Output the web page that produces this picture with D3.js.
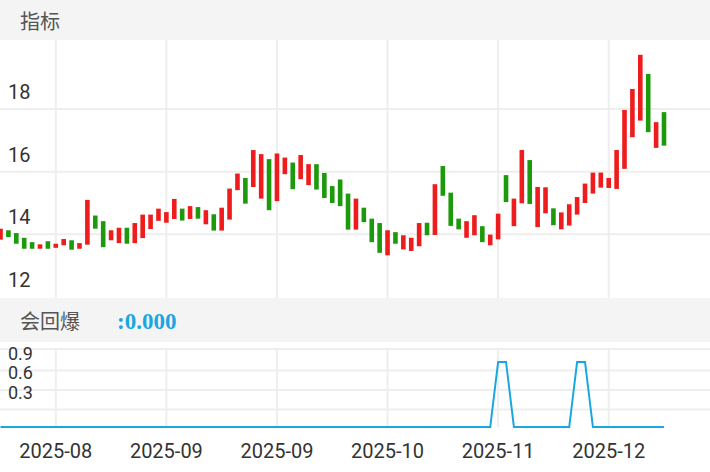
<!DOCTYPE html>
<html><head><meta charset="utf-8">
<script src="https://cdn.jsdelivr.net/npm/d3@7"></script>
<style>body{margin:0;background:#fff}svg{display:block;font-family:Roboto,"Noto Sans CJK SC",sans-serif}</style>
</head><body>
<svg id="c" width="710" height="472"></svg>
<script>
// candle bodies, open / close
const opens = [13.83,14.13,14.04,13.89,13.75,13.54,13.78,13.57,13.65,13.81,13.54,13.67,14.60,14.42,13.81,13.72,14.21,13.72,13.88,14.17,
  14.43,14.37,14.49,14.82,14.49,14.87,14.32,14.64,14.12,14.47,15.41,15.80,15.51,15.14,16.40,15.06,15.92,16.29,15.76,15.57,
  16.24,15.96,15.54,15.75,15.30,14.15,14.85,14.50,14.36,13.33,14.07,13.52,13.47,13.62,14.37,13.98,16.18,15.33,14.50,13.89,
  13.97,14.26,13.65,13.84,15.89,14.26,14.99,16.37,14.23,14.67,14.83,14.16,14.28,14.63,15.00,15.30,15.49,15.48,15.45,16.09,
  17.10,17.63,19.12,16.76,17.90];
const closes = [14.18,13.91,13.70,13.54,13.54,13.68,13.54,13.70,13.85,13.51,13.72,15.10,14.18,13.59,14.13,14.21,13.70,14.36,14.63,14.63,
  14.82,14.71,15.13,14.44,14.90,14.50,14.77,14.12,14.85,15.46,15.94,14.98,16.69,16.56,14.77,16.58,16.45,15.44,16.53,16.24,
  15.43,15.16,15.00,14.90,14.15,15.14,14.39,13.75,13.41,14.13,13.70,13.97,13.89,14.36,13.97,15.60,15.23,14.27,14.16,14.42,
  14.61,13.75,13.99,14.66,15.03,15.14,16.69,14.97,15.51,15.50,14.29,14.70,14.96,15.19,15.62,15.97,15.97,15.80,16.69,17.97,
  18.64,19.73,17.26,17.58,16.83];
// indicator 会回爆 (0 / 1)
const signal = opens.map((_, i) => [63, 64, 73, 74].includes(i) ? 1 : 0);
const priceTicks = [12, 14, 16, 18];
const sigTicks = [0.3, 0.6, 0.9];
const dateLabels = [[7,'2025-08'],[21,'2025-09'],[35,'2025-09'],[49,'2025-10'],[63,'2025-11'],[77,'2025-12']];

const svg = d3.select('#c');
const W = 710;
const x = d3.scaleLinear().domain([0, 84]).range([0.5, 664]);
const y = d3.scaleLinear().domain([12, 18]).range([297, 109]);
const y2 = d3.scaleLinear().domain([0, 1]).range([427, 362]);
const grid = '#eeeeee';

// header bands
svg.append('rect').attr('x',0).attr('y',0).attr('width',W).attr('height',40).attr('fill','#f4f4f4');
svg.append('text').attr('x',20).attr('y',29).attr('font-size',20).attr('fill','#555').text('指标');
svg.append('rect').attr('x',0).attr('y',298).attr('width',W).attr('height',44).attr('fill','#f4f4f4');
svg.append('text').attr('x',20).attr('y',329).attr('font-size',20).attr('fill','#555').text('会回爆');
svg.append('text').attr('x',117).attr('y',329).attr('font-size',23).attr('font-weight','bold')
  .attr('font-family','"Liberation Serif","DejaVu Serif",serif').attr('fill','#1aa7e0').text(':0.000');

// grids
svg.selectAll('.vg').data(dateLabels).join('line')
  .attr('x1', d => x(d[0])).attr('x2', d => x(d[0])).attr('y1', 40).attr('y2', 298)
  .attr('stroke', grid).attr('stroke-width', 2);
svg.selectAll('.vg2').data(dateLabels).join('line')
  .attr('x1', d => x(d[0])).attr('x2', d => x(d[0])).attr('y1', 349).attr('y2', 427)
  .attr('stroke', grid).attr('stroke-width', 2);
svg.selectAll('.hg').data(priceTicks.filter(t => t > 12)).join('line')
  .attr('x1', 0).attr('x2', W).attr('y1', d => y(d)).attr('y2', d => y(d))
  .attr('stroke', grid).attr('stroke-width', 2);
svg.selectAll('.hg2').data(sigTicks).join('line')
  .attr('x1', 0).attr('x2', W).attr('y1', d => y2(d) + 2).attr('y2', d => y2(d) + 2)
  .attr('stroke', grid).attr('stroke-width', 2);
svg.append('line').attr('x1',0).attr('x2',W).attr('y1',349).attr('y2',349).attr('stroke',grid).attr('stroke-width',2);

// price labels
svg.selectAll('.pl').data(priceTicks).join('text')
  .attr('x', 8).attr('y', d => y(d) - 10).attr('font-size', 20).attr('fill', '#333').text(d => d);

// candles
const idx = d3.range(opens.length);
svg.selectAll('.cd').data(idx).join('rect')
  .attr('x', i => x(i) - 2.3).attr('width', 4.6)
  .attr('y', i => y(Math.max(opens[i], closes[i])))
  .attr('height', i => Math.max(1.5, Math.abs(y(opens[i]) - y(closes[i]))))
  .attr('fill', i => closes[i] >= opens[i] ? '#ee1c1c' : '#1d9a0c');

// signal panel
svg.selectAll('.sl').data(sigTicks).join('text')
  .attr('x', 8).attr('y', d => y2(d) - 9).attr('font-size', 18).attr('fill', '#333').text(d => d);
svg.append('path').datum(signal)
  .attr('d', d3.line().x((d, i) => x(i)).y(d => y2(d)))
  .attr('fill', 'none').attr('stroke', '#1aa7e0').attr('stroke-width', 2);

// date labels
svg.selectAll('.dl').data(dateLabels).join('text')
  .attr('x', d => x(d[0])).attr('y', 458).attr('text-anchor', 'middle')
  .attr('font-size', 20).attr('fill', '#333').text(d => d[1]);
</script>
</body></html>
